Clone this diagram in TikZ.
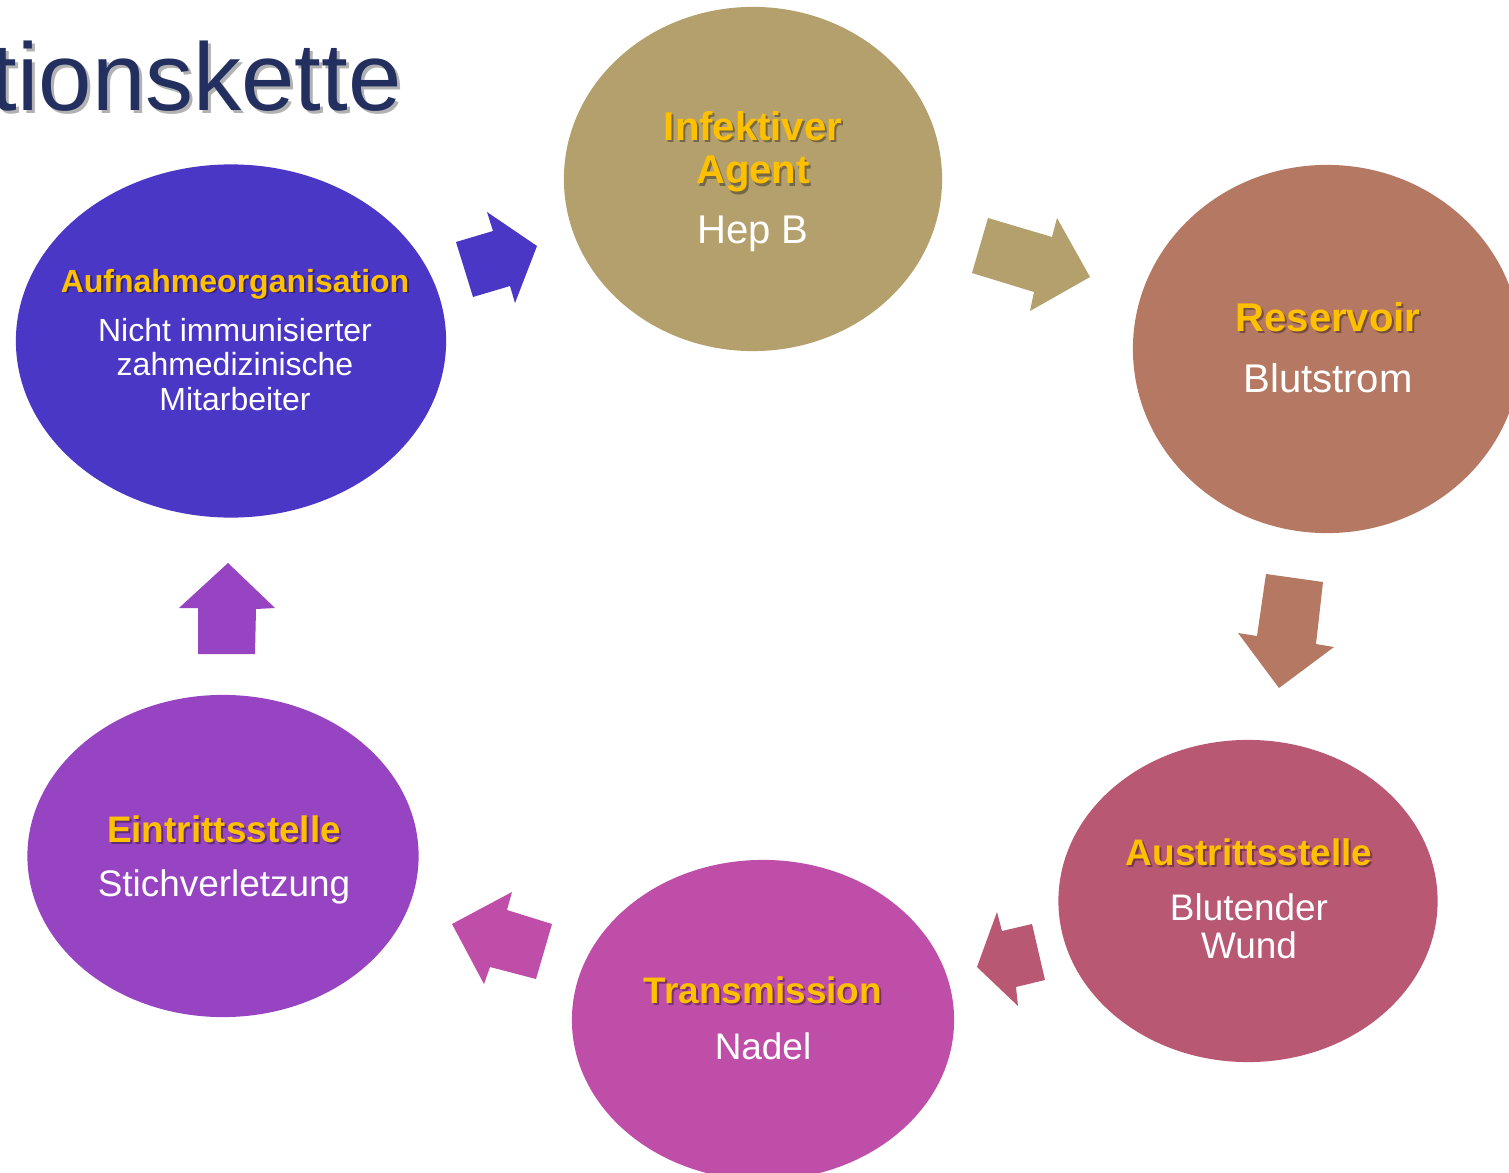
\documentclass[tikz,border=0pt]{standalone}
\usepackage{fontspec}
\setmainfont{Liberation Sans}
\usetikzlibrary{shapes.geometric}
\definecolor{cAgent}{HTML}{B4A06C}
\definecolor{cRes}{HTML}{B57863}
\definecolor{cAus}{HTML}{B95873}
\definecolor{cTrans}{HTML}{BF4EA8}
\definecolor{cEin}{HTML}{9644C2}
\definecolor{cAuf}{HTML}{4B37C6}
\definecolor{cTitle}{HTML}{23305F}
\definecolor{cYel}{HTML}{FFC000}
\tikzset{
  blob/.style={ellipse, inner sep=0pt, draw=none},
  headA/.style={font=\fontsize{11.4pt}{12pt}\selectfont\bfseries, text=cYel, anchor=base, inner sep=0pt},
  headB/.style={font=\fontsize{10.5pt}{12pt}\selectfont\bfseries, text=cYel, anchor=base, inner sep=0pt},
  headC/.style={font=\fontsize{9.1pt}{11pt}\selectfont\bfseries, text=cYel, anchor=base, inner sep=0pt},
  shadA/.style={font=\fontsize{11.4pt}{12pt}\selectfont\bfseries, text=black, text opacity=0.35, anchor=base, inner sep=0pt},
  shadB/.style={font=\fontsize{10.5pt}{12pt}\selectfont\bfseries, text=black, text opacity=0.35, anchor=base, inner sep=0pt},
  shadC/.style={font=\fontsize{9.1pt}{11pt}\selectfont\bfseries, text=black, text opacity=0.35, anchor=base, inner sep=0pt},
  bodyA/.style={font=\fontsize{11.4pt}{12pt}\selectfont, text=white, anchor=base, inner sep=0pt},
  bodyB/.style={font=\fontsize{10.5pt}{12pt}\selectfont, text=white, anchor=base, inner sep=0pt},
  bodyC/.style={font=\fontsize{9.1pt}{11pt}\selectfont, text=white, anchor=base, inner sep=0pt},
}
\begin{document}
\begin{tikzpicture}[x=0.01cm, y=-0.01cm]
\useasboundingbox (0,0) rectangle (1509,1173);
\clip (0,0) rectangle (1509,1173);
\fill[white] (0,0) rectangle (1509,1173);

% title
\node[anchor=base west, inner sep=0pt, font=\fontsize{27.3pt}{30pt}\selectfont, text=black, text opacity=0.3] (titleshadow) at (-7,114) {tionskette};
\node[anchor=base west, inner sep=0pt, font=\fontsize{27.3pt}{30pt}\selectfont, text=cTitle] (title) at (-10,111) {tionskette};

% ellipses
\node[blob, fill=cAgent, minimum width=3.78cm, minimum height=3.44cm] (agent) at (753,179) {};
\node[blob, fill=cRes, minimum width=3.88cm, minimum height=3.68cm] (res) at (1327,349) {};
\node[blob, fill=cAus, minimum width=3.79cm, minimum height=3.22cm] (aus) at (1248,901) {};
\node[blob, fill=cTrans, minimum width=3.82cm, minimum height=3.20cm] (trans) at (763,1020) {};
\node[blob, fill=cEin, minimum width=3.91cm, minimum height=3.22cm] (ein) at (223,856) {};
\node[blob, fill=cAuf, minimum width=4.30cm, minimum height=3.53cm] (auf) at (231,341) {};

% block arrows
\fill[cAuf] (456,242) -- (493,231) -- (487,212) -- (537,246) -- (515,303) -- (510,286) -- (473,297) -- cycle;
\fill[cAgent] (988,218) -- (1052,237) -- (1057,218) -- (1090,277) -- (1030,311) -- (1034,292) -- (972,273) -- cycle;
\fill[cRes] (1266,574) -- (1323,582) -- (1316,644) -- (1334,647) -- (1279,688) -- (1238,633) -- (1257,636) -- cycle;
\fill[cAus] (997,912) -- (1002,931) -- (1032,924) -- (1045,980) -- (1016,987) -- (1018,1006) -- (977,967) -- cycle;
\fill[cTrans] (512,892) -- (507,910) -- (552,924) -- (536,979) -- (490,967) -- (484,984) -- (452,924) -- cycle;
\fill[cEin] (228,563) -- (275,608) -- (256,609) -- (255,654) -- (198,654) -- (198,608) -- (179,608) -- cycle;

% Infektiver Agent
\node[shadA] (agentS1) at (755,143) {Infektiver};
\node[headA] (agentH1) at (753,141) {Infektiver};
\node[shadA] (agentS2) at (755,186) {Agent};
\node[headA] (agentH2) at (753,184) {Agent};
\node[bodyA] (agentB) at (753,243) {Hep B};

% Reservoir
\node[shadA] (resS) at (1330,333) {Reservoir};
\node[headA] (resH) at (1328,331) {Reservoir};
\node[bodyA] (resB) at (1328,392) {Blutstrom};

% Austrittsstelle
\node[shadB] (ausS) at (1251,867) {Austrittsstelle};
\node[headB] (ausH) at (1249,865) {Austrittsstelle};
\node[bodyB] (ausB1) at (1249,920) {Blutender};
\node[bodyB] (ausB2) at (1249,958) {Wund};

% Transmission
\node[shadB] (transS) at (765,1005) {Transmission};
\node[headB] (transH) at (763,1003) {Transmission};
\node[bodyB] (transB) at (763,1059) {Nadel};

% Eintrittsstelle
\node[shadB] (einS) at (226,844) {Eintrittsstelle};
\node[headB] (einH) at (224,842) {Eintrittsstelle};
\node[bodyB] (einB) at (224,896) {Stichverletzung};

% Aufnahmeorganisation
\node[shadC] (aufS) at (237,294) {Aufnahmeorganisation};
\node[headC] (aufH) at (235,292) {Aufnahmeorganisation};
\node[bodyC] (aufB1) at (235,341) {Nicht immunisierter};
\node[bodyC] (aufB2) at (235,375) {zahmedizinische};
\node[bodyC] (aufB3) at (235,410) {Mitarbeiter};
\end{tikzpicture}
\end{document}
